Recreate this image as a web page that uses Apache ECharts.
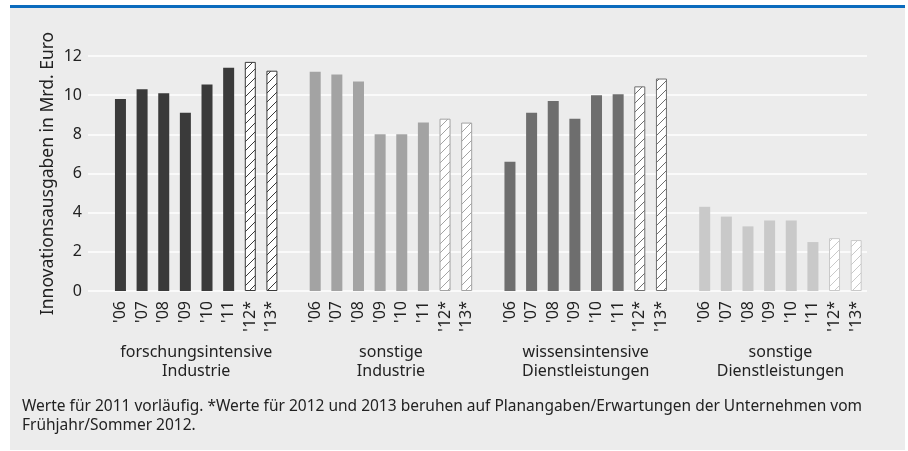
<!DOCTYPE html>
<html>
<head>
<meta charset="utf-8">
<style>
html, body {margin: 0; padding: 0; background: #fff;}
#chart {width: 908px; height: 451px;}
</style>
</head>
<body>
<div id="chart"></div>
<script src="https://cdn.jsdelivr.net/npm/echarts@6/dist/echarts.min.js"></script>
<script>
// Innovationsausgaben je Sektor, Mrd. Euro
var years = ["'06", "'07", "'08", "'09", "'10", "'11", "'12*", "'13*"];
var groups = ['forschungsintensive\nIndustrie', 'sonstige\nIndustrie', 'wissensintensive\nDienstleistungen', 'sonstige\nDienstleistungen'];
var forschIndustrie = [9.8, 10.3, 10.1, 9.1, 10.55, 11.4, 11.7, 11.25];
var sonstIndustrie = [11.2, 11.05, 10.7, 8.0, 8.0, 8.6, 8.8, 8.6];
var wissenDienst = [6.6, 9.1, 9.7, 8.8, 10.0, 10.05, 10.45, 10.85];
var sonstDienst = [4.3, 3.8, 3.3, 3.6, 3.6, 2.5, 2.7, 2.6];
var groupColors = ['#3a3a3a', '#a3a3a3', '#6e6e6e', '#c9c9c9'];

// schraffur fuer planwerte
function hatch(color) {
    var c = document.createElement('canvas');
    c.width = 9;
    c.height = 9;
    var ctx = c.getContext('2d');
    ctx.fillStyle = '#ffffff';
    ctx.fillRect(0, 0, 9, 9);
    ctx.strokeStyle = color;
    ctx.lineWidth = 1;
    ctx.beginPath();
    ctx.moveTo(0, 9); ctx.lineTo(9, 0);
    ctx.moveTo(-1, 1); ctx.lineTo(1, -1);
    ctx.moveTo(8, 10); ctx.lineTo(10, 8);
    ctx.stroke();
    return c;
}

var allValues = [forschIndustrie, sonstIndustrie, wissenDienst, sonstDienst];
var categories = [];
var barData = [];
for (var g = 0; g < allValues.length; g++) {
    categories.push('');
    barData.push('-');
    for (var i = 0; i < years.length; i++) {
        categories.push(years[i]);
        var planned = i >= 6;
        barData.push({
            value: allValues[g][i],
            itemStyle: planned ? {
                color: {image: hatch(groupColors[g]), repeat: 'repeat'},
                borderColor: groupColors[g],
                borderWidth: 1
            } : {color: groupColors[g]}
        });
    }
}
// gruppenmitten auf einer wertachse 0..n
var groupCenters = [5, 14, 23, 32];

var chart = echarts.init(document.getElementById('chart'));
var font = '"Noto Sans", sans-serif';
chart.setOption({
    animation: false,
    textStyle: {fontFamily: font},
    graphic: [
        {type: 'rect', z: -10, shape: {x: 10, y: 5, width: 895, height: 445}, style: {fill: '#ececec'}},
        {type: 'rect', z: -9, shape: {x: 10, y: 5, width: 895, height: 3}, style: {fill: '#0b6bbd'}}
    ],
    title: {
        text: 'Werte für 2011 vorläufig. *Werte für 2012 und 2013 beruhen auf Planangaben/Erwartungen der Unternehmen vom\nFrühjahr/Sommer 2012.',
        left: 22,
        top: 397,
        padding: 0,
        textStyle: {fontFamily: font, fontSize: 15.5, fontWeight: 'normal', color: '#222', lineHeight: 19}
    },
    grid: {left: 88, right: 41, top: 56, bottom: 160},
    xAxis: [{
        type: 'category',
        data: categories,
        axisLine: {show: false},
        axisTick: {show: false},
        axisLabel: {rotate: 90, interval: 0, fontSize: 16, color: '#222', margin: 10, fontFamily: font}
    }, {
        type: 'value',
        min: 0,
        max: categories.length,
        position: 'bottom',
        axisLine: {show: false},
        axisTick: {show: false},
        splitLine: {show: false},
        axisLabel: {
            customValues: groupCenters,
            formatter: function (v) {
                return groups[groupCenters.indexOf(v)] || '';
            },
            fontSize: 16,
            lineHeight: 19,
            color: '#222',
            margin: 52,
            fontFamily: font
        }
    }],
    yAxis: {
        type: 'value',
        min: 0,
        max: 12,
        interval: 2,
        name: 'Innovationsausgaben in Mrd. Euro',
        nameLocation: 'middle',
        nameGap: 31,
        nameMoveOverlap: false,
        nameTextStyle: {fontSize: 17.5, color: '#222', fontFamily: font},
        axisLine: {show: false},
        axisTick: {show: false},
        axisLabel: {fontSize: 16, color: '#222', margin: 6, fontFamily: font},
        splitLine: {lineStyle: {color: '#ffffff', width: 1.5}}
    },
    series: [{
        type: 'bar',
        xAxisIndex: 0,
        barWidth: 11,
        data: barData
    }]
});
</script>
</body>
</html>
